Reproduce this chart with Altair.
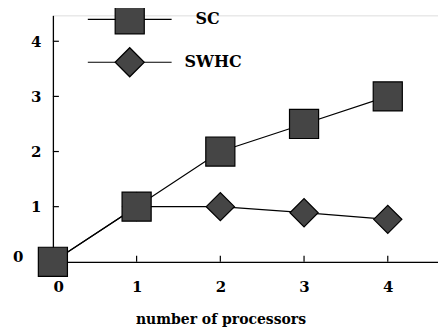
import altair as alt
import pandas as pd

processors = [0, 1, 2, 3, 4]
sc_values = [0.0, 1.0, 2.0, 2.5, 3.0]
swhc_values = [0.0, 1.0, 1.0, 0.89, 0.77]
xticks = [1, 2, 3, 4]
yticks = [1, 2, 3, 4]

df = pd.DataFrame({
    "p": processors * 2,
    "v": sc_values + swhc_values,
    "s": ["SC"] * 5 + ["SWHC"] * 5,
})
df_sc = df[df.s == "SC"]
df_sw = df[df.s == "SWHC"]

W, H = 386, 247
FONT = "DejaVu Serif"
FILL = "#454545"
xs = alt.Scale(domain=[0, 4.6], nice=False, zero=False)
ys = alt.Scale(domain=[0, 4.47], nice=False)

xaxis = alt.Axis(values=processors, format="d", ticks=False, grid=False, domainColor="black", domainWidth=1.3,
                 labelFont=FONT, labelFontSize=15, labelFontWeight="bold", labelColor="black",
                 labelPadding=18, title="number of processors", titleFont=FONT, titleFontSize=14,
                 titleFontWeight="bold", titleColor="black", titlePadding=18, titleX=168,
                 titleAlign="center", titleAnchor="start")
yaxis = alt.Axis(values=yticks, format="d", ticks=False, grid=False, domainColor="black", domainWidth=1.3,
                 labelFont=FONT, labelFontSize=15, labelFontWeight="bold", labelColor="black",
                 labelPadding=12, title=None)

sw_line = alt.Chart(df_sw).mark_line(color="black", strokeWidth=1.2).encode(
    x=alt.X("p:Q", scale=xs, axis=xaxis), y=alt.Y("v:Q", scale=ys, axis=yaxis))
sc_line = alt.Chart(df_sc).mark_line(color="black", strokeWidth=1.2).encode(
    x=alt.X("p:Q", scale=xs), y=alt.Y("v:Q", scale=ys))
sw_pts = alt.Chart(df_sw[df_sw.p > 0]).mark_point(shape="diamond", size=800, filled=True, fill=FILL,
                                     stroke="black", strokeWidth=1.2, opacity=1).encode(
    x=alt.X("p:Q", scale=xs), y=alt.Y("v:Q", scale=ys))
sc_pts = alt.Chart(df_sc).mark_point(shape="square", size=850, filled=True, fill=FILL,
                                     stroke="black", strokeWidth=1.2, opacity=1).encode(
    x=alt.X("p:Q", scale=xs), y=alt.Y("v:Q", scale=ys))

xt = alt.Chart(pd.DataFrame({"t": xticks})).mark_rule(color="black", strokeWidth=1.2).encode(
    x=alt.X("t:Q", scale=xs), y=alt.value(H), y2=alt.value(H - 6))
yt = alt.Chart(pd.DataFrame({"t": yticks})).mark_rule(color="black", strokeWidth=1.2).encode(
    y=alt.Y("t:Q", scale=ys), x=alt.value(0), x2=alt.value(6))
zero_lab = alt.Chart(pd.DataFrame({"t": [0]})).mark_text(
    align="left", baseline="middle", font=FONT, fontSize=15, fontWeight="bold", color="black", dy=-5).encode(
    y=alt.Y("t:Q", scale=ys), x=alt.value(-40), text=alt.Text("t:Q", format="d"))

def legend_entry(name, shape, size, ypix, textx):
    d = alt.Chart(pd.DataFrame({"s": [name]}))
    r = d.mark_rule(color="black", strokeWidth=1.2).encode(x=alt.value(35), x2=alt.value(119), y=alt.value(ypix))
    p = d.mark_point(shape=shape, size=size, filled=True, fill=FILL, stroke="black",
                     strokeWidth=1.2, opacity=1).encode(x=alt.value(77), y=alt.value(ypix))
    t = d.mark_text(align="left", baseline="middle", font=FONT, fontSize=16, fontWeight="bold",
                    color="black").encode(x=alt.value(textx), y=alt.value(ypix), text="s:N")
    return r + p + t

leg_sc = legend_entry("SC", "square", 850, 4, 143)
leg_sw = legend_entry("SWHC", "diamond", 850, 47, 132)

chart = alt.layer(sw_line, sc_line, xt, yt, zero_lab, sw_pts, sc_pts, leg_sc, leg_sw).properties(
    width=W, height=H, autosize=alt.AutoSizeParams(type="none"),
    padding={"left": 45, "top": 7, "right": 0, "bottom": 70},
).configure_view(stroke=None).configure(background="white")

chart.save("out.html", embed_options={"renderer": "svg", "actions": False})
